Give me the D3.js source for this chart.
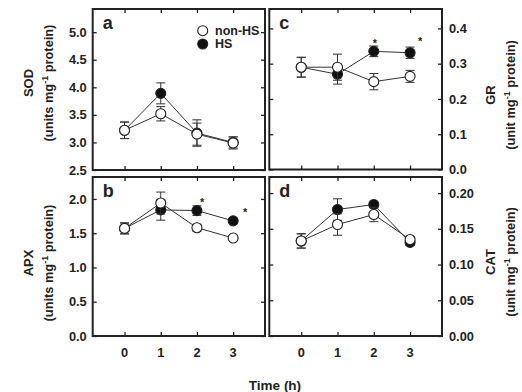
<!DOCTYPE html>
<html>
<head>
<meta charset="utf-8">
<script src="https://cdn.jsdelivr.net/npm/d3@7"></script>
<style>
  body { margin: 0; background: #fff; }
  svg text { font-family: "Liberation Sans", Arial, sans-serif; font-weight: bold; fill: #222; }
</style>
</head>
<body>
<svg id="chart" width="522" height="392"></svg>
<script>
// time points (h)
var times = [0, 1, 2, 3];
var xTicks = [0, 1, 2, 3];

// SOD (panel a)
var sodNon = [3.22, 3.52, 3.15, 2.99];
var sodNonErr = [0.15, 0.13, 0.2, 0.11];
var sodHS = [3.22, 3.89, 3.17, 3.0];
var sodHSErr = [0.15, 0.19, 0.24, 0.1];

// APX (panel b)
var apxNon = [1.57, 1.94, 1.58, 1.43];
var apxNonErr = [0.08, 0.16, 0.05, 0.03];
var apxHS = [1.57, 1.84, 1.83, 1.68];
var apxHSErr = [0.08, 0.15, 0.07, 0.03];

// GR (panel c)
var grNon = [0.29, 0.29, 0.249, 0.264];
var grNonErr = [0.028, 0.037, 0.023, 0.017];
var grHS = [0.29, 0.27, 0.335, 0.331];
var grHSErr = [0.028, 0.028, 0.015, 0.016];

// CAT (panel d)
var catNon = [0.133, 0.156, 0.170, 0.135];
var catNonErr = [0.01, 0.015, 0.01, 0.004];
var catHS = [0.133, 0.177, 0.184, 0.131];
var catHSErr = [0.01, 0.015, 0.003, 0.004];

// tick labels
var sodTicks = [2.5, 3.0, 3.5, 4.0, 4.5, 5.0];
var apxTicks = [0.0, 0.5, 1.0, 1.5, 2.0];
var grTicks = [0.0, 0.1, 0.2, 0.3, 0.4];
var catTicks = [0.0, 0.05, 0.10, 0.15, 0.20];

// significance marks [time, value]
var apxStars = [[2.14, 1.985], [3.33, 1.84]];
var grStars = [[2.03, 0.365], [3.28, 0.369]];

var svg = d3.select("#chart");
var ink = "#222";

var panels = [
  { id: "a", x0: 92.7, x1: 265, y0: 9, y1: 170, dom: [2.5, 5.42], ticks: sodTicks, fmt: d3.format(".1f"), side: "left",
    non: sodNon, nonErr: sodNonErr, hs: sodHS, hsErr: sodHSErr, stars: [],
    title: "SOD", unit: "(units mg", tx: 28.5, ux: 48.5, ty: 83 },
  { id: "b", x0: 92.7, x1: 265, y0: 177, y1: 336, dom: [0, 2.32], ticks: apxTicks, fmt: d3.format(".1f"), side: "left",
    non: apxNon, nonErr: apxNonErr, hs: apxHS, hsErr: apxHSErr, stars: apxStars,
    title: "APX", unit: "(units mg", tx: 28.5, ux: 48.5, ty: 263, xlab: true },
  { id: "c", x0: 269.3, x1: 442, y0: 9, y1: 169.5, dom: [0, 0.455], ticks: grTicks, fmt: d3.format(".1f"), side: "right",
    non: grNon, nonErr: grNonErr, hs: grHS, hsErr: grHSErr, stars: grStars,
    title: "GR", unit: "(unit mg", tx: 490, ux: 511, ty: 95 },
  { id: "d", x0: 269.3, x1: 442, y0: 177, y1: 336, dom: [0, 0.2225], ticks: catTicks, fmt: d3.format(".2f"), side: "right",
    non: catNon, nonErr: catNonErr, hs: catHS, hsErr: catHSErr, stars: [],
    title: "CAT", unit: "(unit mg", tx: 490, ux: 511, ty: 262, xlab: true }
];

panels.forEach(function(p) {
  var x = d3.scaleLinear().domain([-0.88, 3.88]).range([p.x0, p.x1]);
  var y = d3.scaleLinear().domain(p.dom).range([p.y1, p.y0]);
  var g = svg.append("g");

  // frame ticks, all inward
  g.append("g").attr("transform", "translate(0," + p.y1 + ")")
    .call(d3.axisBottom(x).tickValues(xTicks).tickSize(-4).tickFormat(""));
  g.append("g").attr("transform", "translate(0," + p.y0 + ")")
    .call(d3.axisTop(x).tickValues(xTicks).tickSize(-4).tickFormat(""));
  g.append("g").attr("transform", "translate(" + p.x0 + ",0)")
    .call(d3.axisLeft(y).tickValues(p.ticks).tickSize(-4).tickFormat(""));
  g.append("g").attr("transform", "translate(" + p.x1 + ",0)")
    .call(d3.axisRight(y).tickValues(p.ticks).tickSize(-4).tickFormat(""));
  g.selectAll(".domain").remove();
  g.selectAll(".tick line").attr("stroke", ink).attr("stroke-width", 1.3);

  g.append("rect")
    .attr("x", p.x0).attr("y", p.y0)
    .attr("width", p.x1 - p.x0).attr("height", p.y1 - p.y0)
    .attr("fill", "none").attr("stroke", ink).attr("stroke-width", 2);

  // y tick labels
  var lx = p.side == "left" ? p.x0 - 6 : p.x1 + 7;
  g.selectAll(".ylab").data(p.ticks).enter().append("text")
    .attr("x", lx).attr("y", function(d) { return y(d) + 4.6; })
    .attr("text-anchor", p.side == "left" ? "end" : "start")
    .style("font-size", "12.8px")
    .text(function(d) { return p.fmt(d); });

  if (p.xlab) {
    g.selectAll(".xlab").data(xTicks).enter().append("text")
      .attr("x", function(d) { return x(d); }).attr("y", 357)
      .attr("text-anchor", "middle")
      .style("font-size", "12.8px")
      .text(function(d) { return d; });
  }

  // panel letter
  g.append("text").attr("x", p.x0 + 10).attr("y", p.y0 + 20)
    .style("font-size", "18px").text(p.id);

  // axis titles
  g.append("text")
    .attr("transform", "translate(" + p.tx + "," + p.ty + ") rotate(-90)")
    .attr("text-anchor", "middle").attr("dy", "0.35em")
    .style("font-size", "13px").text(p.title);
  var ut = g.append("text")
    .attr("transform", "translate(" + p.ux + "," + p.ty + ") rotate(-90)")
    .attr("text-anchor", "middle").attr("dy", "0.35em")
    .style("font-size", "12.8px");
  ut.append("tspan").text(p.unit);
  ut.append("tspan").attr("dy", "-5").style("font-size", "9px").text("-1");
  ut.append("tspan").attr("dy", "5").text(" protein)");

  var line = d3.line().x(function(d, i) { return x(times[i]); }).y(function(d) { return y(d); });

  function drawSeries(vals, errs, fill) {
    var s = g.append("g");
    s.append("path").datum(vals).attr("d", line)
      .attr("fill", "none").attr("stroke", "#333").attr("stroke-width", 1);
    vals.forEach(function(v, i) {
      var cx = x(times[i]);
      var top = y(v + errs[i]), bot = y(v - errs[i]);
      s.append("line").attr("x1", cx).attr("x2", cx).attr("y1", top).attr("y2", bot)
        .attr("stroke", "#333").attr("stroke-width", 1);
      [top, bot].forEach(function(yy) {
        s.append("line").attr("x1", cx - 4.5).attr("x2", cx + 4.5).attr("y1", yy).attr("y2", yy)
          .attr("stroke", "#333").attr("stroke-width", 1);
      });
    });
    s.selectAll("circle").data(vals).enter().append("circle")
      .attr("cx", function(d, i) { return x(times[i]); })
      .attr("cy", function(d) { return y(d); })
      .attr("r", 5)
      .attr("fill", fill).attr("stroke", "#222").attr("stroke-width", 1.1);
  }
  drawSeries(p.hs, p.hsErr, "#111");
  drawSeries(p.non, p.nonErr, "#fff");

  p.stars.forEach(function(st) {
    g.append("text").attr("x", x(st[0])).attr("y", y(st[1]) + 6)
      .attr("text-anchor", "middle").style("font-size", "11px").text("*");
  });

  if (p.id == "a") {
    var leg = [["non-HS", "#fff", 30.7], ["HS", "#111", 44]];
    leg.forEach(function(l) {
      g.append("circle").attr("cx", 202.7).attr("cy", l[2]).attr("r", 5)
        .attr("fill", l[1]).attr("stroke", "#222").attr("stroke-width", 1.1);
      g.append("text").attr("x", 215).attr("y", l[2] + 4.3)
        .style("font-size", "12.5px").text(l[0]);
    });
  }
});

svg.append("text").attr("x", 275).attr("y", 390)
  .attr("text-anchor", "middle").style("font-size", "13.5px").text("Time (h)");
</script>
</body>
</html>
